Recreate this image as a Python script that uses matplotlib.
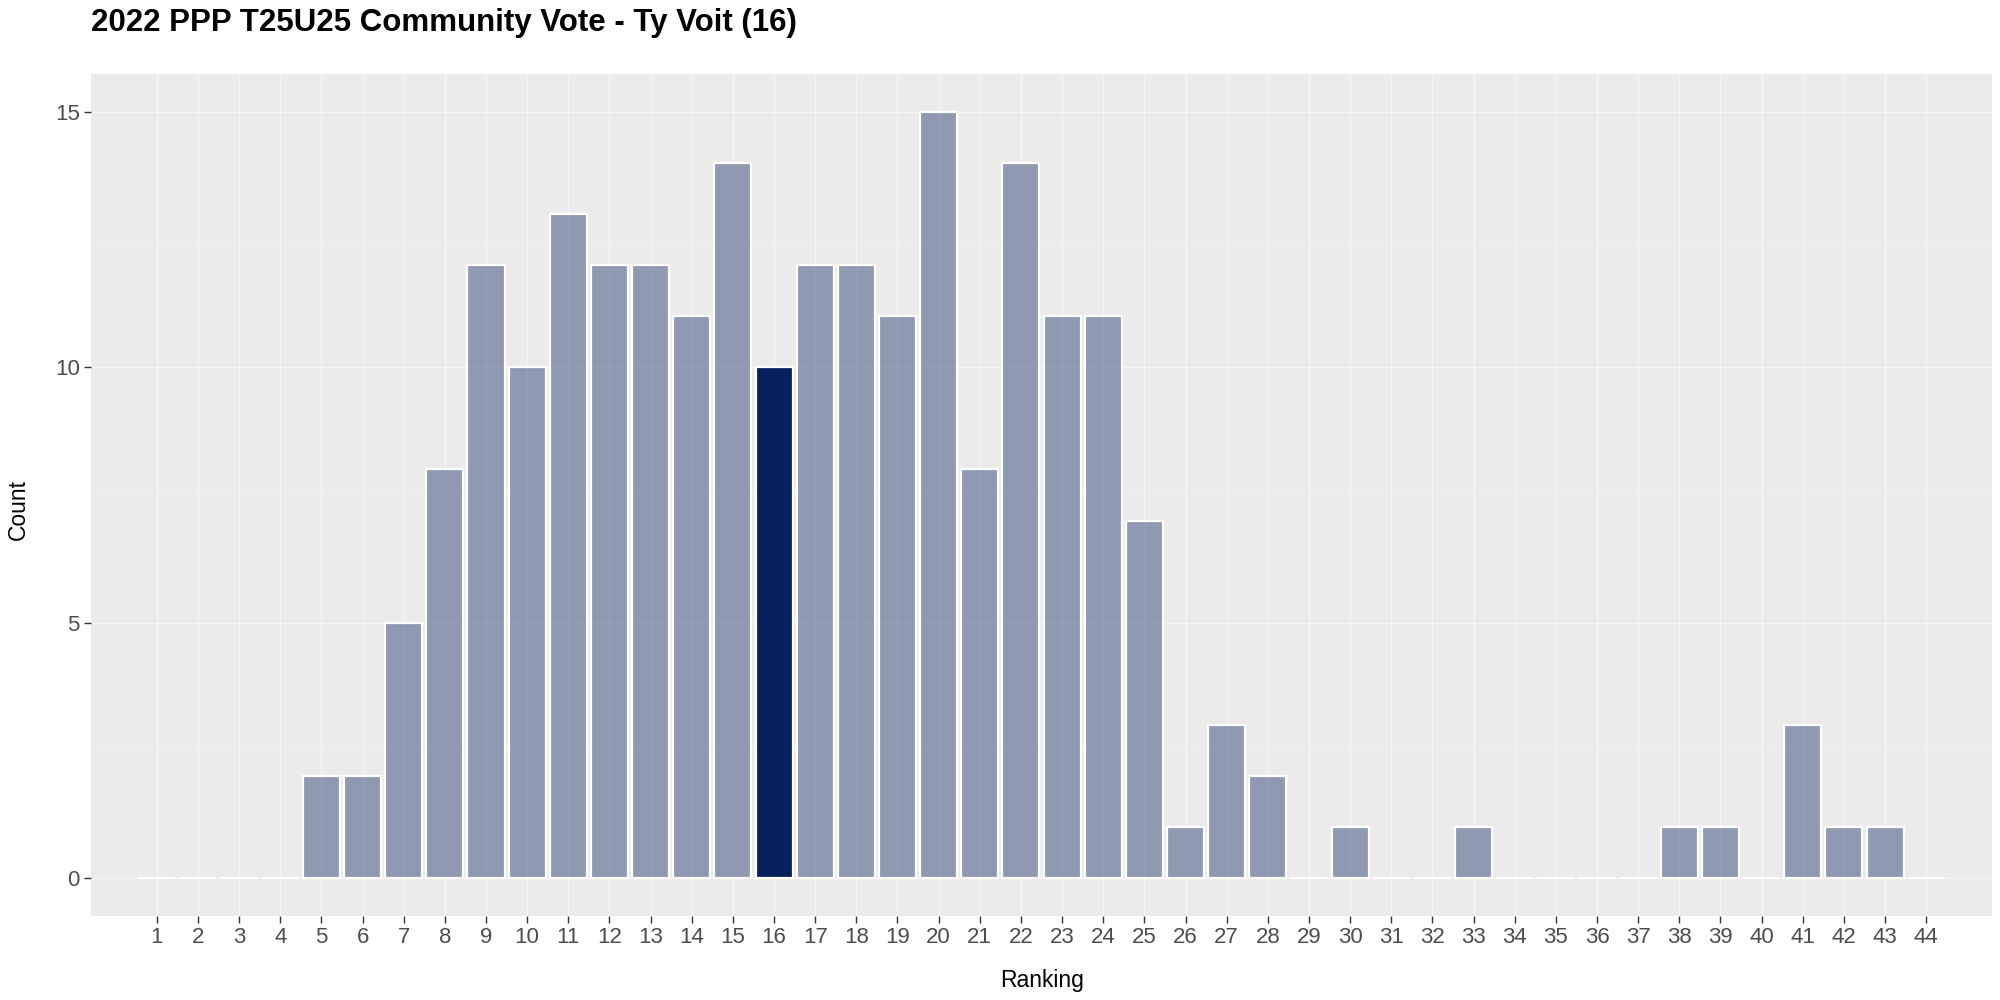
import matplotlib
matplotlib.use("Agg")
import matplotlib.pyplot as plt
from matplotlib.ticker import MultipleLocator

plt.rcParams['font.family'] = ['Liberation Sans', 'DejaVu Sans']

# ranking 1..44 and how many votes each got
rankings = list(range(1, 45))
counts = [0, 0, 0, 0, 2, 2, 5, 8, 12, 10,
          13, 12, 12, 11, 14, 10, 12, 12, 11, 15,
          8, 14, 11, 11, 7, 1, 3, 2, 0, 1,
          0, 0, 1, 0, 0, 0, 0, 1, 1, 0,
          3, 1, 1, 0]
highlight = 16
title = "2022 PPP T25U25 Community Vote - Ty Voit (16)"

navy = (0.02, 0.125, 0.36)
faded = navy + (0.4,)

fig = plt.figure(figsize=(20, 10), dpi=100)
ax = fig.add_axes([0.0455, 0.084, 0.9505, 0.842])
ax.set_facecolor('#EBEBEB')
for s in ax.spines.values():
    s.set_visible(False)

colors = [navy if r == highlight else faded for r in rankings]
ax.bar(rankings, counts, width=0.9, color=colors, edgecolor='white', linewidth=1.6, zorder=2)

ax.set_xlim(-0.6, 45.6)
ax.set_ylim(-0.75, 15.75)
ax.set_xticks(rankings)
ax.set_xticklabels([str(r) for r in rankings])
ax.set_yticks([0, 5, 10, 15])
ax.yaxis.set_minor_locator(MultipleLocator(2.5))

ax.grid(which='major', color='#F5F5F5', linewidth=1.0, zorder=0)
ax.grid(which='minor', axis='y', color='#F2F2F2', linewidth=0.6, zorder=0)
ax.set_axisbelow(True)

ax.tick_params(axis='both', which='major', labelsize=16, labelcolor='#4D4D4D',
               color='#333333', length=5, width=1, pad=3)
ax.tick_params(axis='y', which='minor', length=0)

fig.text(1042 / 2000, 1 - 981 / 1000, 'Ranking', ha='center', va='center', fontsize=16.5)
fig.text(18 / 2000, 1 - 509 / 1000, 'Count', ha='center', va='center', fontsize=16.5, rotation=90)
fig.text(0.0455, 0.977, title, ha='left', va='center', fontsize=22.5, fontweight='bold')

fig.savefig('out.png', dpi=100)
